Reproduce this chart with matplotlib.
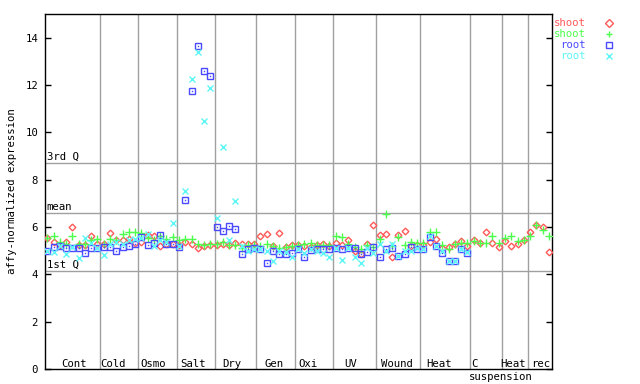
import matplotlib
matplotlib.use("Agg")
import matplotlib.pyplot as plt
import numpy as np

# --- data ------------------------------------------------------------------
groups = ["Cont", "Cold", "Osmo", "Salt", "Dry", "Gen", "Oxi", "UV", "Wound",
          "Heat", "C", "Heat", "rec"]
group_sizes = [9, 6, 6, 6, 7, 6, 6, 7, 7, 8, 5, 4, 4]

shoot_1 = [5.55, 5.35, 5.25, 5.35, 6.0, 5.25, 5.25, 5.62, 5.3,
           5.3, 5.75, 5.45, 5.45, 5.48, 5.32,
           5.35, 5.66, 5.62, 5.21, 5.3, 5.27,
           5.25, 5.35, 5.27, 5.1, 5.21, 5.24,
           5.22, 5.3, 5.25, 5.33, 5.28, 5.3, 5.28,
           5.6, 5.7, 5.2, 5.74, 5.15, 5.25,
           5.24, 5.2, 5.15, 5.25, 5.27, 5.2,
           5.31, 5.22, 5.45, 4.98, 4.84, 5.27, 6.08,
           5.66, 5.72, 4.72, 5.66, 5.84, 5.2, 5.25,
           5.25, 5.35, 5.48, 5.1, 5.14, 5.28, 5.42, 5.2,
           5.45, 5.34, 5.8, 5.31, 5.14,
           5.42, 5.2, 5.28, 5.45,
           5.8, 6.08, 6.0, 4.96]

shoot_2 = [5.55, 5.6, 5.35, 5.3, 5.62, 5.3, 5.3, 5.45, 5.48,
           5.3, 5.5, 5.45, 5.69, 5.77, 5.8,
           5.75, 5.55, 5.45, 5.6, 5.5, 5.59,
           5.45, 5.49, 5.49, 5.27, 5.24, 5.27,
           5.3, 5.38, 5.25, 5.25, 5.1, 5.25, 5.25,
           5.2, 5.27, 5.2, 5.1, 5.15, 5.2,
           5.22, 5.27, 5.31, 5.24, 5.24, 5.24,
           5.62, 5.56, 5.3, 5.15, 5.07, 5.24, 5.14,
           5.49, 6.55, 5.2, 5.59, 5.24, 5.38, 5.31,
           5.31, 5.8, 5.8, 5.24, 5.06, 5.28, 5.34, 5.31,
           5.42, 5.34, 5.31, 5.62, 5.34,
           5.52, 5.62, 5.42, 5.45,
           5.62, 6.08, 5.87, 5.62]

root_1 = [5.0, 5.14, 5.2, 5.1, 5.1, 5.1, 4.89, 5.1, 5.1,
          5.14, 5.14, 5.0, 5.17, 5.2, 5.3,
          5.56, 5.24, 5.31, 5.66, 5.3, 5.27,
          5.14, 7.13, 11.73, 13.65, 12.58, 12.37,
          5.99, 5.83, 6.04, 5.9, 4.86, 5.05, 5.1,
          5.07, 4.5, 4.98, 4.84, 4.84, 4.9,
          5.05, 4.72, 5.03, 5.06, 5.07, 5.07,
          5.1, 5.07, 5.1, 5.1, 4.84, 4.96, 5.14,
          4.72, 5.05, 5.1, 4.77, 4.88, 5.17, 5.05,
          5.05, 5.56, 5.19, 4.91, 4.58, 4.58, 5.05, 4.91]

root_2 = [4.98, 4.95, 5.2, 4.86, 5.15, 4.68, 5.52, 5.34, 5.1,
          4.81, 5.3, 5.35, 5.3, 5.45, 5.5,
          5.55, 5.7, 5.2, 5.45, 5.35, 6.15,
          5.2, 7.51, 12.24, 13.38, 10.48, 11.86,
          6.37, 9.37, 5.45, 7.08, 5.2, 5.0, 5.05,
          5.05, 5.0, 4.56, 5.0, 4.95, 4.75,
          5.05, 4.9, 5.05, 5.0, 4.89, 4.75,
          5.1, 4.6, 5.12, 4.75, 4.46, 5.1, 4.89,
          5.3, 5.0, 5.3, 4.77, 5.0, 5.0, 5.1,
          5.05, 5.6, 5.2, 5.0, 4.58, 4.58, 5.06, 4.95]

q1, mean, q3 = 4.13, 6.59, 8.7

# --- layout -----------------------------------------------------------------
mono = "DejaVu Sans Mono"
fs = 7.7
grey = "#a0a0a0"
colors = ["#ff5a5a", "#4cff4c", "#4a4aff", "#5cf6f6"]

# separators between groups (sample-index units)
bounds = [8.4, 14.47, 20.64, 26.75, 33.29, 39.5, 45.6, 52.5, 59.4, 67.4, 72.5, 76.6]
label_x = [4.3, 10.4, 16.9, 23.2, 29.5, 36.1, 41.5, 48.3, 55.8, 62.5, 68.2, 74.2, 78.7]

fig = plt.figure(figsize=(6.4, 3.84), dpi=100)
ax = fig.add_axes([45 / 640, 15 / 384, 507 / 640, 355 / 384])

for b in bounds:
    ax.axvline(b, color=grey, lw=1, zorder=1)
for v in (q1, mean, q3):
    ax.axhline(v, color=grey, lw=1, zorder=1)

ytr = ax.get_yaxis_transform()
ax.text(0.003, q3 + 0.06, "3rd Q", transform=ytr, family=mono, fontsize=fs, va="bottom")
ax.text(0.003, mean + 0.06, "mean", transform=ytr, family=mono, fontsize=fs, va="bottom")
ax.text(0.003, q1 + 0.06, "1st Q", transform=ytr, family=mono, fontsize=fs, va="bottom")

xs = np.arange(len(shoot_1))
xr = np.arange(len(root_1))
ax.plot(xs, shoot_1, ls="none", marker="D", ms=3.4, mfc="none", mec=colors[0], mew=1, zorder=3)
ax.plot(xs, shoot_2, ls="none", marker="+", ms=6, mec=colors[1], mew=1, zorder=3)
ax.plot(xr, root_1, ls="none", marker="s", ms=4.6, mfc="none", mec=colors[2], mew=1, zorder=3)
ax.plot(xr, root_1, ls="none", marker="s", ms=1, mfc=colors[2], mec=colors[2], mew=0, zorder=3)
ax.plot(xr, root_2, ls="none", marker="x", ms=4.5, mec=colors[3], mew=1, zorder=3)

for name, x in zip(groups, label_x):
    ax.text(x, 0.1, name, family=mono, fontsize=fs, ha="center", va="baseline")
ax.annotate("suspension", xy=(72.4, 0), xycoords=("data", "axes fraction"),
            xytext=(0, -11), textcoords="offset pixels", family=mono,
            fontsize=fs, ha="center", va="baseline", annotation_clip=False)

ax.set_xlim(-0.37, 80.5)
ax.set_ylim(0, 15)
ax.set_xticks([])
ax.set_yticks(np.arange(0, 15, 2))
ax.tick_params(axis="y", direction="in", length=4.5, width=1, right=True,
               labelsize=fs, pad=5)
for lab in ax.get_yticklabels():
    lab.set_family(mono)
for s in ax.spines.values():
    s.set_linewidth(1)
ax.set_ylabel("affy-normalized expression", family=mono, fontsize=fs, labelpad=6)

# legend outside on the right
legend_names = ["shoot", "shoot", "root", "root"]
legend_marks = ["D", "+", "s", "x"]
for k, (name, m, c) in enumerate(zip(legend_names, legend_marks, colors)):
    yy = 1 - (23 + 11 * k) / 384
    fig.text(586 / 640, yy, name, color=c, family=mono, fontsize=fs,
             ha="right", va="center")
    fig.lines.append(plt.Line2D([609 / 640], [yy], transform=fig.transFigure,
                                ls="none", marker=m, ms=4.6 if m == "s" else 4.5,
                                mfc="none", mec=c, mew=1))

fig.savefig("out.png", dpi=100)
